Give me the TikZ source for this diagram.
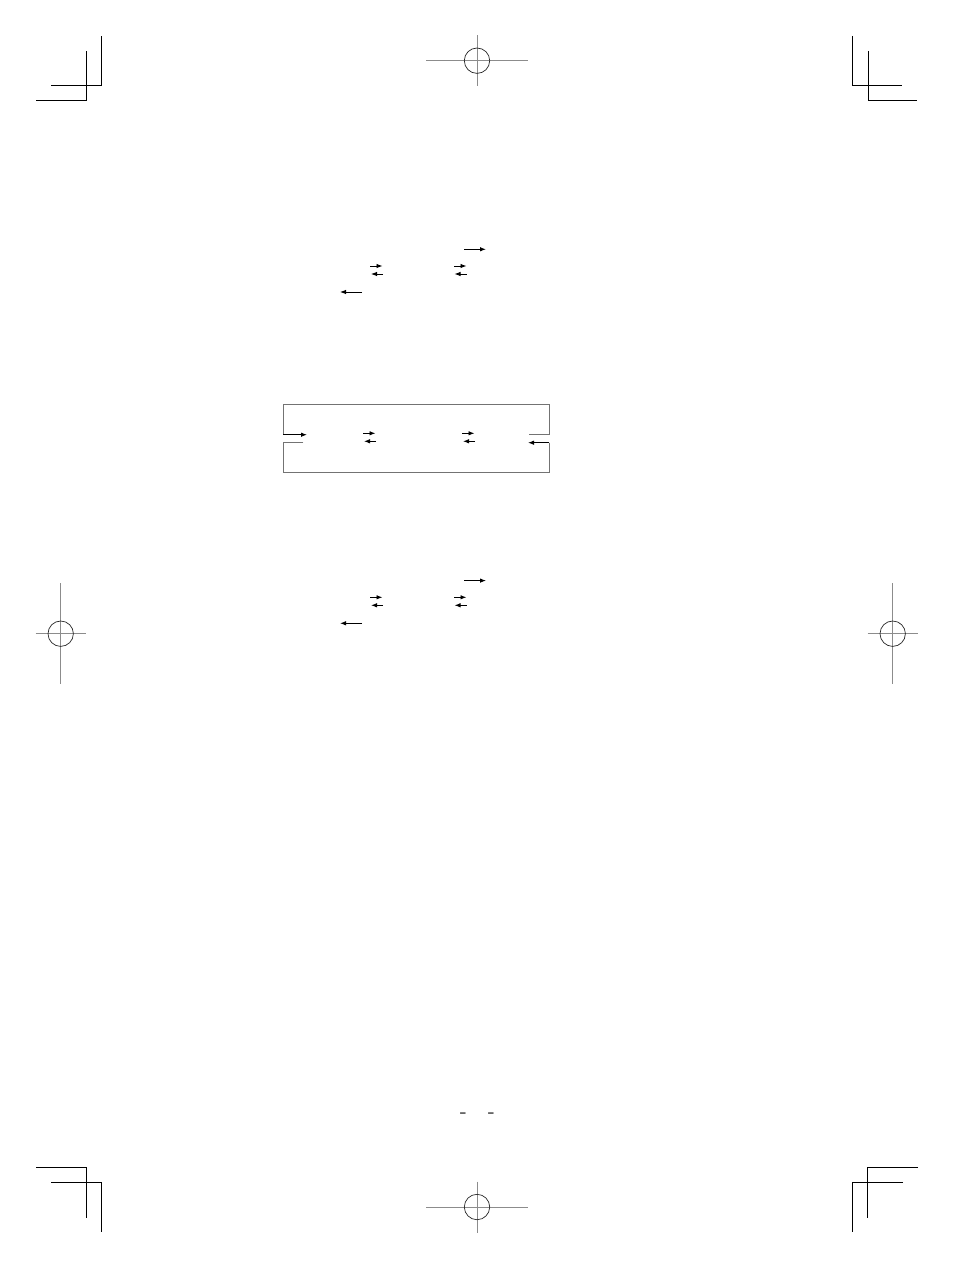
\documentclass[tikz,border=0pt]{standalone}
\usepackage{fontspec}
\newfontfamily\folio{Liberation Sans}
\usetikzlibrary{arrows.meta}
\tikzset{>={Latex[length=6pt,width=4.5pt]}}
\tikzset{
  crop/.style = {line width=1pt, black},
  regline/.style = {line width=0.8pt, black!45},
  regring/.style = {line width=0.7pt, black!85},
  rxn/.style = {->, line width=0.9pt, black},
  frame/.style = {line width=0.8pt, black!55}
}
% registration mark: centre, half width, half height
\newcommand{\regmark}[4]{%
  \draw[regline] (#1-#3,#2) -- (#1+#3,#2);
  \draw[regline] (#1,#2-#4) -- (#1,#2+#4);
  \draw[regring] (#1,#2) circle (12.7pt);
}

\begin{document}
\begin{tikzpicture}[x=1pt,y=-1pt]
  \useasboundingbox (0,0) rectangle (954,1268);
  % crop marks
  \draw[crop] (51,86) -- (101,86) -- (101,36);
  \draw[crop] (36,101) -- (86,101) -- (86,51);
  \draw[crop] (852,36) -- (852,86) -- (902,86);
  \draw[crop] (868,51) -- (868,101) -- (917,101);
  \draw[crop] (36,1167) -- (86,1167) -- (86,1218);
  \draw[crop] (51,1182) -- (101,1182) -- (101,1232);
  \draw[crop] (918,1167) -- (867,1167) -- (867,1218);
  \draw[crop] (903,1182) -- (852,1182) -- (852,1232);
  % registration marks
  \regmark{477}{60.7}{51}{25.5}
  \regmark{477}{1207}{51}{25.5}
  \regmark{60.7}{633.7}{25}{50.5}
  \regmark{892.7}{633.7}{25}{50.5}

  % upper and lower schemes
  \foreach \dy/\g in {0/a,331.3/c} {
    \begin{scope}[shift={(0,\dy)}]
      \coordinate (\g0s) at (464,249.3); \coordinate (\g0e) at (486,249.3);
      \coordinate (\g1s) at (370,266);   \coordinate (\g1e) at (382.5,266);
      \coordinate (\g2s) at (383,274);   \coordinate (\g2e) at (371,274);
      \coordinate (\g3s) at (454,266);   \coordinate (\g3e) at (466.5,266);
      \coordinate (\g4s) at (466.5,274); \coordinate (\g4e) at (454.5,274);
      \coordinate (\g5s) at (362,292);   \coordinate (\g5e) at (340,292);
      \foreach \i in {0,...,5}
        \draw[rxn] (\g\i s) -- (\g\i e);
    \end{scope}
  }

  % cyclic scheme in the box
  \coordinate (inS) at (283,434.7);  \coordinate (inE) at (307,434.7);
  \coordinate (outS) at (549.3,442.7); \coordinate (outE) at (528,442.7);
  \draw[frame] (inS) -- (283,404.7) -- (549.3,404.7) -- (549.3,434.7) -- (529.3,434.7);
  \draw[frame] (303.3,442.7) -- (283,442.7) -- (283,472.7) -- (549.3,472.7) -- (outS);
  \draw[rxn] (inS) -- (inE);
  \draw[rxn] (outS) -- (outE);
  \coordinate (b1s) at (363.3,433.3); \coordinate (b1e) at (375.5,433.3);
  \coordinate (b2s) at (376,441.3);   \coordinate (b2e) at (364,441.3);
  \coordinate (b3s) at (462.3,433.3); \coordinate (b3e) at (474.5,433.3);
  \coordinate (b4s) at (475,441.3);   \coordinate (b4e) at (463,441.3);
  \foreach \i in {1,...,4}
    \draw[rxn] (b\i s) -- (b\i e);

  % page number dashes
  \node[font=\folio\bfseries\fontsize{11}{12}\selectfont] (dashL) at (463,1115) {–};
  \node[font=\folio\bfseries\fontsize{11}{12}\selectfont] (dashR) at (491,1115) {–};
\end{tikzpicture}
\end{document}
